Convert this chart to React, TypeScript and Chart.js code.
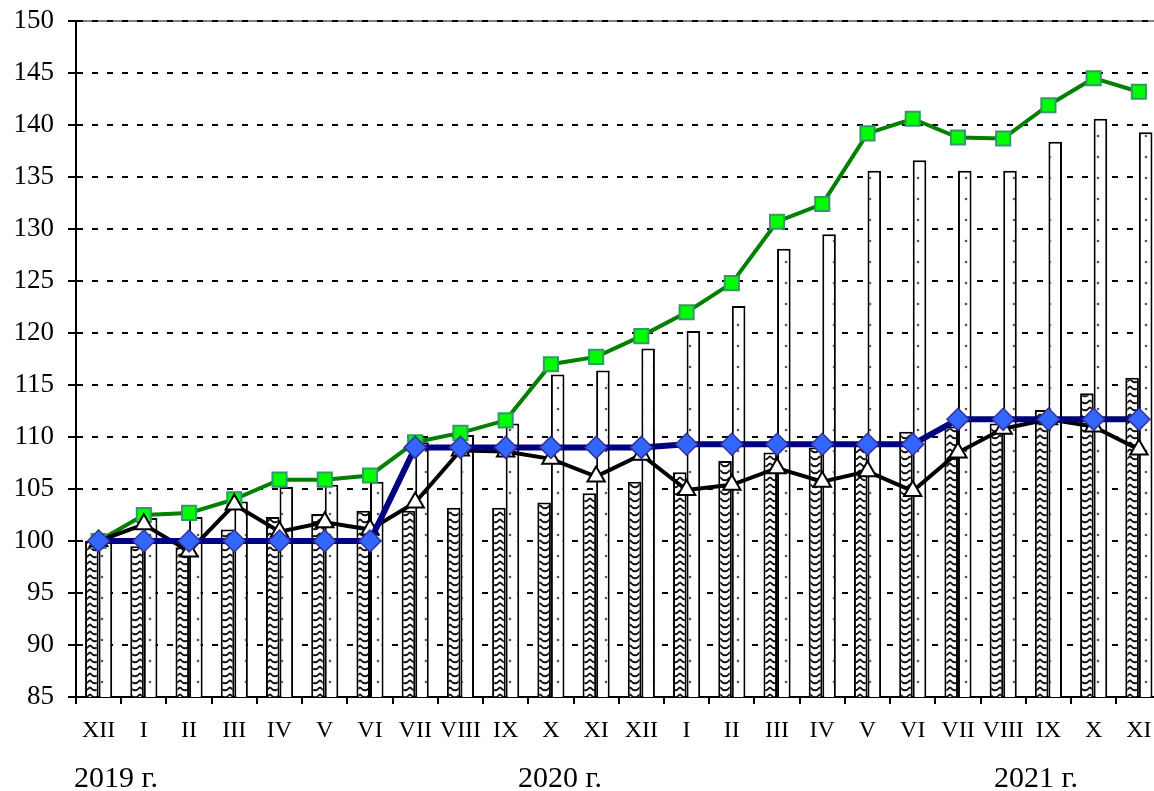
import React, { useEffect, useRef } from 'react';
import { Chart, registerables } from 'chart.js';

Chart.register(...registerables);

const months = ['XII', 'I', 'II', 'III', 'IV', 'V', 'VI', 'VII', 'VIII', 'IX', 'X', 'XI', 'XII', 'I', 'II', 'III', 'IV', 'V', 'VI', 'VII', 'VIII', 'IX', 'X', 'XI'];

const hatchedBars = [100, 99.5, 99.4, 101.1, 102.3, 102.6, 102.9, 102.9, 103.2, 103.2, 103.7, 104.6, 105.7, 106.6, 107.7, 108.5, 109.0, 109.2, 110.5, 111.0, 111.3, 112.6, 114.2, 115.7];
const dottedBars = [100, 102.2, 102.3, 103.8, 105.2, 105.4, 105.7, 109.5, 110.2, 111.3, 116.0, 116.4, 118.5, 120.2, 122.6, 128.1, 129.5, 135.6, 136.6, 135.6, 135.6, 138.4, 140.6, 139.3];
const greenLine = [100, 102.5, 102.7, 104.0, 105.9, 105.9, 106.3, 109.5, 110.4, 111.6, 117.0, 117.7, 119.7, 122.0, 124.8, 130.7, 132.4, 139.2, 140.6, 138.8, 138.7, 141.9, 144.5, 143.2];
const blackLine = [100, 101.6, 99.0, 103.5, 100.9, 101.8, 101.1, 103.7, 108.7, 108.6, 107.9, 106.2, 108.3, 104.9, 105.4, 107.0, 105.7, 106.7, 104.8, 108.5, 110.8, 111.7, 111.0, 108.8];
const blueLine = [100, 100, 100, 100, 100, 100, 100, 109, 109, 109, 109, 109, 109, 109.3, 109.3, 109.3, 109.3, 109.3, 109.3, 111.7, 111.7, 111.7, 111.7, 111.7];

const yMin = 85;
const yMax = 150;
const yStep = 5;

const yearLabels = ['2019 г.', '2020 г.', '2021 г.'];
const yearCenters = [116, 560, 1036];

const FONT = "'Liberation Serif', 'Times New Roman', serif";

function makePattern(w: number, h: number, draw: (g: CanvasRenderingContext2D) => void) {
  const c = document.createElement('canvas');
  c.width = w;
  c.height = h;
  const g = c.getContext('2d')!;
  g.fillStyle = '#ffffff';
  g.fillRect(0, 0, w, h);
  draw(g);
  return g.createPattern(c, 'repeat')!;
}

export default function App() {
  const ref = useRef<HTMLCanvasElement>(null);

  useEffect(() => {
    const hatch = makePattern(10, 7, (g) => {
      g.strokeStyle = '#111111';
      g.lineWidth = 1.8;
      g.beginPath();
      g.moveTo(0, 1);
      g.quadraticCurveTo(5, 7.5, 10, 1);
      g.stroke();
    });
    const dots = makePattern(12, 21, (g) => {
      g.fillStyle = '#555555';
      g.beginPath();
      g.arc(6, 10, 1.3, 0, Math.PI * 2);
      g.fill();
    });

    const extras = {
      id: 'extras',
      beforeDraw(chart: any) {
        const { ctx, chartArea } = chart;
        ctx.save();
        ctx.strokeStyle = '#808080';
        ctx.lineWidth = 2;
        ctx.beginPath();
        ctx.moveTo(chartArea.left, chartArea.top);
        ctx.lineTo(chartArea.right, chartArea.top);
        ctx.stroke();
        ctx.restore();
      },
      afterDraw(chart: any) {
        const { ctx } = chart;
        ctx.save();
        ctx.fillStyle = '#000';
        ctx.font = `30px ${FONT}`;
        ctx.textAlign = 'center';
        ctx.textBaseline = 'middle';
        yearLabels.forEach((t, i) => ctx.fillText(t, yearCenters[i], 779));
        ctx.restore();
      },
    };

    const chart = new Chart(ref.current!, {
      type: 'bar',
      data: {
        labels: months,
        datasets: [
          {
            type: 'line',
            data: blueLine,
            borderColor: '#000080',
            borderWidth: 6,
            pointStyle: 'rectRot',
            pointRadius: 11,
            pointBackgroundColor: '#3366ff',
            pointBorderColor: '#333399',
            pointBorderWidth: 1.5,
            tension: 0,
            order: 1,
          } as any,
          {
            type: 'line',
            data: blackLine,
            borderColor: '#000000',
            borderWidth: 4,
            pointStyle: 'triangle',
            pointRadius: 10,
            pointBackgroundColor: '#ffffff',
            pointBorderColor: '#000000',
            pointBorderWidth: 2,
            tension: 0,
            order: 2,
          },
          {
            type: 'line',
            data: greenLine,
            borderColor: '#008000',
            borderWidth: 4,
            pointStyle: 'rect',
            pointRadius: 10,
            pointBackgroundColor: '#00ff00',
            pointBorderColor: '#339966',
            pointBorderWidth: 2,
            tension: 0,
            order: 3,
          },
          {
            type: 'bar',
            data: hatchedBars,
            backgroundColor: hatch,
            borderColor: '#000',
            borderWidth: 2,
            categoryPercentage: 0.6,
            barPercentage: 1.0,
            order: 9,
          },
          {
            type: 'bar',
            data: dottedBars,
            backgroundColor: dots,
            borderColor: '#000',
            borderWidth: 2,
            categoryPercentage: 0.6,
            barPercentage: 1.0,
            order: 10,
          },
        ],
      },
      options: {
        responsive: false,
        maintainAspectRatio: false,
        animation: false,
        layout: { padding: { top: 21, right: 2, left: 0, bottom: 0 } },
        plugins: { legend: { display: false }, tooltip: { enabled: false } },
        scales: {
          x: {
            grid: { drawOnChartArea: false, offset: true, tickLength: 7, color: '#000', lineWidth: 2 },
            border: { color: '#000', width: 2 },
            ticks: { color: '#000', font: { family: FONT, size: 24 }, padding: 12, maxRotation: 0, autoSkip: false },
            afterFit: (s: any) => { s.height = 94; s.paddingLeft = 0; s.paddingRight = 0; },
          },
          y: {
            min: yMin,
            max: yMax,
            ticks: { stepSize: yStep, color: '#000', font: { family: FONT, size: 27 }, padding: 14 },
            grid: { color: '#000', lineWidth: 2, tickLength: 8, tickBorderDash: [], tickColor: '#000' },
            border: { color: '#000', width: 2, dash: [6, 9] },
            afterFit: (s: any) => { s.width = 76; s.paddingTop = 0; s.paddingBottom = 0; },
          },
        },
      },
      plugins: [extras],
    });
    return () => chart.destroy();
  }, []);

  return (
    <div style={{ position: 'fixed', left: 0, top: 0, width: 1154, height: 791, overflow: 'hidden', background: '#fff' }}>
      <canvas ref={ref} width={1174} height={791} style={{ display: 'block', width: 1174, height: 791 }} />
    </div>
  );
}
